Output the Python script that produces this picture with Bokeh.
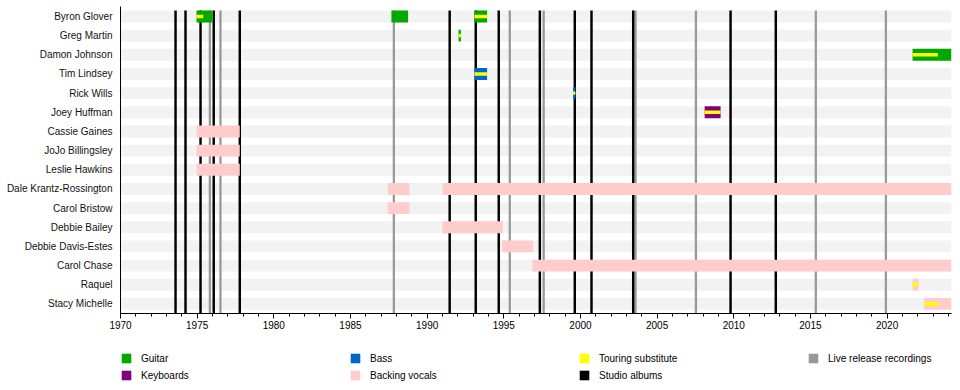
from bokeh.plotting import figure
from bokeh.models import Range1d, FixedTicker, Legend, LegendItem, ColumnDataSource
from bokeh.layouts import column
from bokeh.embed import file_html
from bokeh.resources import INLINE

# ---------------- data ----------------
members = ["Byron Glover", "Greg Martin", "Damon Johnson", "Tim Lindsey", "Rick Wills",
           "Joey Huffman", "Cassie Gaines", "JoJo Billingsley", "Leslie Hawkins",
           "Dale Krantz-Rossington", "Carol Bristow", "Debbie Bailey", "Debbie Davis-Estes",
           "Carol Chase", "Raquel", "Stacy Michelle"]

START = 1970.0
END = 2024.2

# stints (member, start, end, role)
stint_member = ["Byron Glover", "Byron Glover", "Byron Glover", "Greg Martin", "Damon Johnson",
                "Tim Lindsey", "Rick Wills", "Joey Huffman", "Cassie Gaines", "JoJo Billingsley",
                "Leslie Hawkins", "Dale Krantz-Rossington", "Dale Krantz-Rossington",
                "Carol Bristow", "Debbie Bailey", "Debbie Davis-Estes", "Carol Chase",
                "Raquel", "Stacy Michelle"]
stint_start = [1974.96, 1987.67, 1993.09, 1992.05, 2021.66,
               1993.09, 1999.52, 2008.10, 1974.96, 1974.96,
               1974.96, 1987.43, 1991.00,
               1987.43, 1991.00, 1994.89, 1996.87,
               2021.66, 2022.40]
stint_end = [1975.98, 1988.76, 1993.91, 1992.20, END,
             1993.91, 1999.67, 2009.14, 1977.78, 1977.78,
             1977.78, 1988.85, END,
             1988.85, 1994.93, 1996.91, END,
             2022.05, END]
stint_role = ["Guitar", "Guitar", "Guitar", "Guitar", "Guitar",
              "Bass", "Bass", "Keyboards", "Backing vocals", "Backing vocals",
              "Backing vocals", "Backing vocals", "Backing vocals",
              "Backing vocals", "Backing vocals", "Backing vocals", "Backing vocals",
              "Backing vocals", "Backing vocals"]

# touring-substitute periods (thin strip)
tour_member = ["Byron Glover", "Byron Glover", "Greg Martin", "Damon Johnson", "Tim Lindsey",
               "Rick Wills", "Joey Huffman", "Raquel", "Stacy Michelle"]
tour_start = [1974.96, 1993.09, 1992.05, 2021.66, 1993.09, 1999.52, 2008.10, 2021.66, 2022.40]
tour_end = [1975.40, 1993.91, 1992.20, 2023.31, 1993.91, 1999.67, 2009.14, 2022.05, 2023.37]

studio_albums = [1973.59, 1974.24, 1975.22, 1976.08, 1977.78, 1991.47, 1993.17, 1994.67,
                 1997.35, 1999.63, 2000.72, 2003.44, 2009.79, 2012.74]
live_releases = [1975.83, 1976.52, 1987.83, 1995.39, 1997.60, 2003.59, 2007.53, 2015.35, 2019.92]

major_ticks = [1970, 1975, 1980, 1985, 1990, 1995, 2000, 2005, 2010, 2015, 2020]
minor_ticks = [1970, 1971, 1972, 1973, 1974, 1975, 1976, 1977, 1978, 1979, 1980, 1981, 1982,
               1983, 1984, 1985, 1986, 1987, 1988, 1989, 1990, 1991, 1992, 1993, 1994, 1995,
               1996, 1997, 1998, 1999, 2000, 2001, 2002, 2003, 2004, 2005, 2006, 2007, 2008,
               2009, 2010, 2011, 2012, 2013, 2014, 2015, 2016, 2017, 2018, 2019, 2020, 2021,
               2022, 2023, 2024]

roles = ["Guitar", "Keyboards", "Bass", "Backing vocals"]
role_colors = {"Guitar": "#00a800", "Keyboards": "#800080", "Bass": "#0066cc",
               "Backing vocals": "#ffcccc"}
TOUR_COLOR = "#ffff00"
STUDIO_COLOR = "#000000"
LIVE_COLOR = "#999999"
BAND_COLOR = "#f2f2f2"

# ---------------- sources ----------------
FONT = "Liberation Sans"
n = len(members)
row_of = {m: n - 1 - i for i, m in enumerate(members)}
BAR_H = 0.62
TOUR_H = 0.18
Y_LO, Y_HI = -0.5, n - 0.48
LINE_TOP = (n - 1) + BAR_H / 2

role_src = {}
for role in roles:
    idx = [i for i, r in enumerate(stint_role) if r == role]
    role_src[role] = ColumnDataSource(dict(y=[row_of[stint_member[i]] for i in idx],
                                           left=[stint_start[i] for i in idx],
                                           right=[stint_end[i] for i in idx]))
tour_src = ColumnDataSource(dict(y=[row_of[m] for m in tour_member], left=tour_start, right=tour_end))
studio_src = ColumnDataSource(dict(x=studio_albums))
live_src = ColumnDataSource(dict(x=live_releases))


def draw_marks(fig):
    """Draw release lines and member bars; returns renderers keyed by legend label."""
    out = {}
    out["Live release recordings"] = fig.vbar(x="x", width=0.15, bottom=Y_LO, top=LINE_TOP,
                                              source=live_src, fill_color=LIVE_COLOR, line_color=None)
    out["Studio albums"] = fig.vbar(x="x", width=0.16, bottom=Y_LO, top=LINE_TOP,
                                    source=studio_src, fill_color=STUDIO_COLOR, line_color=None)
    for role in roles:
        out[role] = fig.hbar(y="y", left="left", right="right", height=BAR_H, source=role_src[role],
                             fill_color=role_colors[role], line_color=None)
    out["Touring substitute"] = fig.hbar(y="y", left="left", right="right", height=TOUR_H,
                                         source=tour_src, fill_color=TOUR_COLOR, line_color=None)
    return out


# ---------------- main figure ----------------
p = figure(width=960, height=340, output_backend="svg", toolbar_location=None,
           x_range=Range1d(START, END), y_range=Range1d(Y_LO, Y_HI),
           min_border_left=120, min_border_right=9, min_border_top=6, min_border_bottom=27)
p.outline_line_color = None
p.grid.visible = False

# background bands
p.hbar(y=[row_of[m] for m in members], left=START, right=END, height=BAR_H,
       fill_color=BAND_COLOR, line_color=None)
draw_marks(p)

xa = p.xaxis[0]
xa.ticker = FixedTicker(ticks=major_ticks, minor_ticks=minor_ticks)
xa.major_tick_out = 5
xa.major_tick_in = 0
xa.minor_tick_out = 3
xa.minor_tick_in = 0
xa.major_label_standoff = 2
xa.axis_line_color = "black"
xa.major_tick_line_color = "black"
xa.minor_tick_line_color = "black"
xa.major_label_text_font = FONT
xa.major_label_text_font_size = "10px"
xa.major_label_text_color = "black"

ya = p.yaxis[0]
ya.ticker = FixedTicker(ticks=[row_of[m] for m in members])
ya.major_label_overrides = {row_of[m]: m for m in members}
ya.major_tick_out = 0
ya.major_tick_in = 0
ya.minor_tick_out = 0
ya.minor_tick_in = 0
ya.major_label_standoff = 8
ya.axis_line_color = "black"
ya.major_label_text_font = FONT
ya.major_label_text_font_size = "10px"
ya.major_label_text_color = "#111111"

# ---------------- legend figure ----------------
# same sources and x scale, but a vertical window above all rows: only the legend is seen
lf = figure(width=960, height=50, output_backend="svg", toolbar_location=None,
            x_range=Range1d(START, END), y_range=Range1d(n + 20, n + 21),
            x_axis_type=None, y_axis_type=None,
            min_border_left=120, min_border_right=9, min_border_top=0, min_border_bottom=0)
lf.outline_line_color = None
lf.grid.visible = False
lr = draw_marks(lf)

legend_order = ["Guitar", "Keyboards", "Bass", "Backing vocals", "Touring substitute",
                "Studio albums", "Live release recordings"]
legend = Legend(items=[LegendItem(label=lab, renderers=[lr[lab]]) for lab in legend_order],
                location=(0, 9), orientation="vertical", nrows=2,
                glyph_width=12, glyph_height=12, label_height=12, label_width=203,
                label_standoff=9, spacing=5, padding=0, margin=0,
                border_line_color=None, background_fill_alpha=0,
                label_text_font=FONT, label_text_font_size="10px", label_text_color="black")
lf.add_layout(legend)

layout = column(p, lf)
open("out.html", "w").write(file_html(layout, INLINE))
